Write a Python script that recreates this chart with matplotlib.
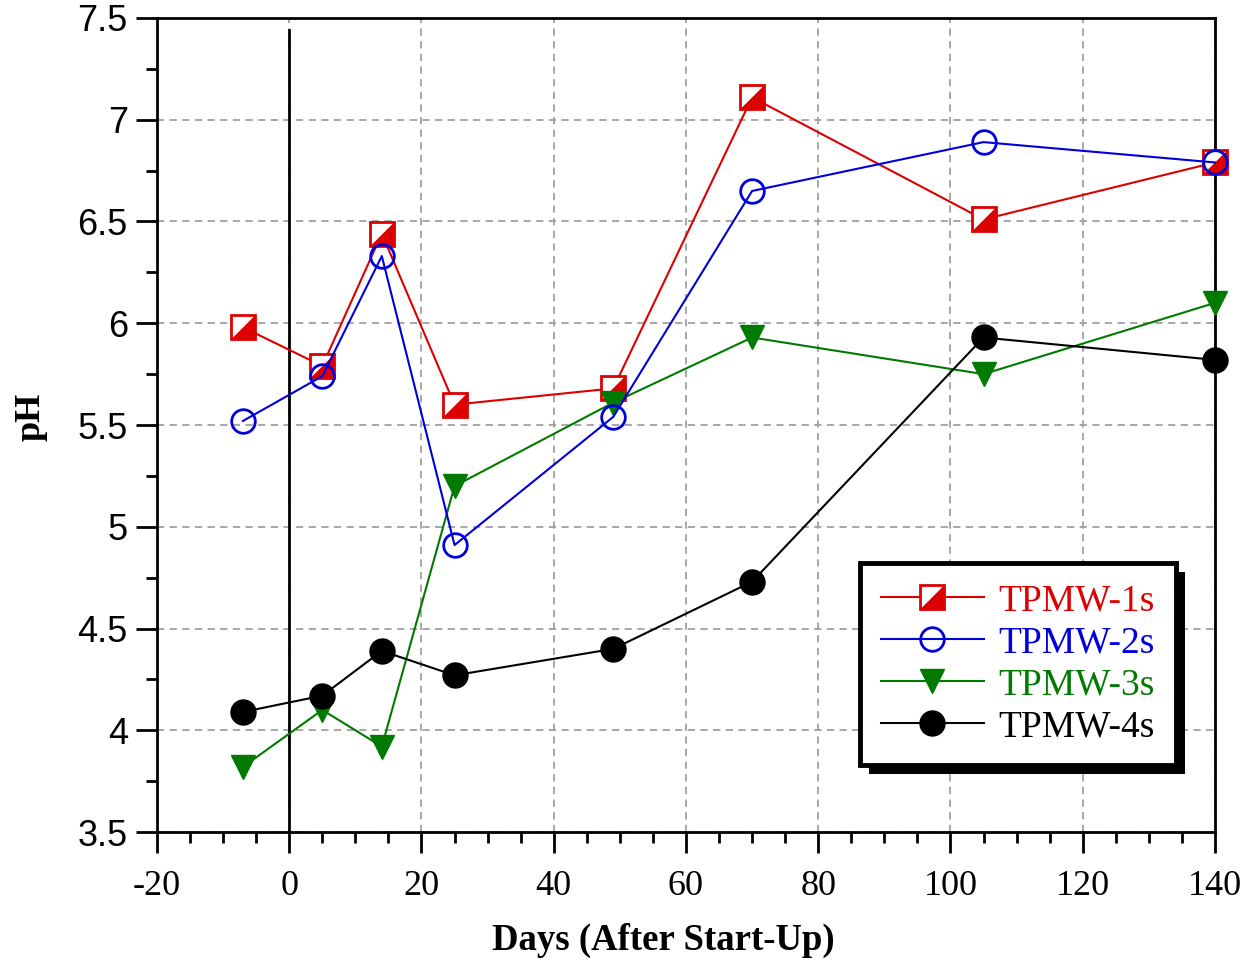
import matplotlib
matplotlib.use('Agg')
import matplotlib.pyplot as plt
import matplotlib.patheffects as pe
from matplotlib.ticker import MultipleLocator, FormatStrFormatter
import numpy as np

days = [-7, 5, 14, 25, 49, 70, 105, 140]
ph_1s = [5.98, 5.79, 6.44, 5.60, 5.68, 7.11, 6.51, 6.79]
ph_2s = [5.52, 5.74, 6.33, 4.91, 5.54, 6.65, 6.89, 6.79]
ph_3s = [3.82, 4.10, 3.92, 5.20, 5.61, 5.93, 5.75, 6.10]
ph_4s = [4.09, 4.17, 4.39, 4.27, 4.40, 4.73, 5.93, 5.82]

SERIF = 'Liberation Serif'
SANS = 'Liberation Sans'
plt.rcParams['axes.unicode_minus'] = False

fig = plt.figure(figsize=(12.47, 9.61), dpi=100)
ax = fig.add_axes([0.1259, 0.1342, 0.8484, 0.8471])

ms = 17
# lower-right half triangle for the half-filled square
tri = [(-1, -1), (1, -1), (1, 1), (-1, -1)]

l1a, = ax.plot(days, ph_1s, color='#dd0000', lw=1.5, marker='s', ms=ms,
               mfc='white', mec='#dd0000', mew=2, zorder=3, clip_on=False)
l1b, = ax.plot(days, ph_1s, ls='none', marker=tri, ms=ms,
               mfc='#dd0000', mec='#dd0000', mew=0.5, zorder=3, clip_on=False)
l2, = ax.plot(days, ph_2s, color='#0000dd', lw=1.5, marker='o', ms=ms,
              mfc='none', mec='#0000dd', mew=2, zorder=4, clip_on=False)
l3, = ax.plot(days, ph_3s, color='#007a00', lw=1.5, marker='v', ms=ms,
              mfc='#007a00', mec='#007a00', zorder=3, clip_on=False)
l4, = ax.plot(days, ph_4s, color='black', lw=1.5, marker='o', ms=ms + 1,
              mfc='black', mec='black', zorder=3, clip_on=False)

# start-up day marker
ax.plot([0, 0], [3.5, 7.44], color='black', lw=2, zorder=2)

ax.set_xlim(-20, 140)
ax.set_ylim(3.5, 7.5)
ax.xaxis.set_major_locator(MultipleLocator(20))
ax.xaxis.set_minor_locator(MultipleLocator(5))
ax.yaxis.set_major_locator(MultipleLocator(0.5))
ax.yaxis.set_minor_locator(MultipleLocator(0.25))
ax.yaxis.set_major_formatter(FormatStrFormatter('%g'))

ax.grid(True, which='major', color='#a0a0a0', ls=(0, (4, 3)), lw=1.3)
ax.set_axisbelow(True)

ax.tick_params(which='major', direction='out', length=15, width=2)
ax.tick_params(which='minor', direction='out', length=8, width=2)
ax.tick_params(axis='x', which='major', pad=12)
ax.tick_params(axis='y', which='major', pad=6)
for lab in ax.get_xticklabels():
    lab.set_fontfamily(SERIF)
    lab.set_fontsize(26)
for lab in ax.get_yticklabels():
    lab.set_fontfamily(SANS)
    lab.set_fontsize(26)
for sp in ax.spines.values():
    sp.set_linewidth(2)

ax.set_xlabel('Days (After Start-Up)', fontfamily=SERIF, fontweight='bold',
              fontsize=26.5, labelpad=15)
ax.xaxis.label.set_x(0.479)
ax.set_ylabel('pH', fontfamily=SERIF, fontweight='bold', fontsize=26,
              labelpad=22)
ax.yaxis.label.set_y(0.51)

leg = ax.legend([(l1a, l1b), l2, l3, l4],
                ['TPMW-1s', 'TPMW-2s', 'TPMW-3s', 'TPMW-4s'],
                loc='upper left', bbox_to_anchor=(0.6897, 0.4142),
                bbox_transform=fig.transFigure, borderaxespad=0,
                prop={'family': SERIF, 'size': 27}, handlelength=2.75,
                handletextpad=0.4, labelspacing=0.2, borderpad=0.55,
                fancybox=False, framealpha=1)
frame = leg.get_frame()
frame.set_edgecolor('black')
frame.set_linewidth(3.5)
frame.set_path_effects([pe.SimplePatchShadow(offset=(6.5, -6.5), shadow_rgbFace='black',
                                             alpha=1), pe.Normal()])
for txt, c in zip(leg.get_texts(), ['#dd0000', '#0000dd', '#007a00', 'black']):
    txt.set_color(c)
leg.set_zorder(10)

fig.savefig('out.png', dpi=100)
